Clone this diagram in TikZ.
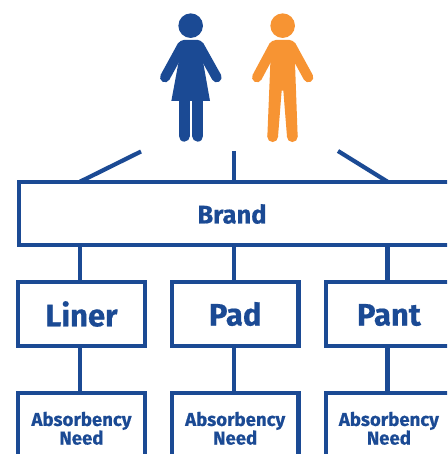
\documentclass[tikz,border=0pt]{standalone}
\usepackage{fontspec}
\setmainfont[BoldFeatures={FakeBold=0.5}]{Fira Sans}
\definecolor{brandblue}{HTML}{1B4A94}
\definecolor{personorange}{HTML}{F79433}
\tikzset{
  boxframe/.style={draw=brandblue,line width=4.2pt,fill=white,inner sep=0pt,outer sep=0pt,minimum width=126.4pt},
  linkline/.style={draw=brandblue,line width=4.2pt},
  bigbox/.style={boxframe,minimum height=63.4pt,text=brandblue,font=\fontsize{31}{31}\selectfont\bfseries},
  smallbox/.style={boxframe,minimum height=70pt,text=brandblue,align=center,font=\fontsize{18.6}{18.6}\selectfont\bfseries},
  limb/.style={line width=10pt,line cap=round},
  leg/.style={line width=11.3pt,line cap=round}
}
\begin{document}
\begin{tikzpicture}[x=1pt,y=-1pt]
\useasboundingbox (0,0) rectangle (447,454);
\clip (0,0) rectangle (447,454);
% woman
\begin{scope}[shift={(140,0)},x=0.33333pt,y=-0.33333pt,fill=brandblue,draw=brandblue]
  \fill (152,77) circle[radius=12.3pt];
  \draw[limb] (127,137) -- (75,232);
  \draw[limb] (177,137) -- (230,232);
  \fill[rounded corners=3pt] (122,120) -- (183,120) -- (190,150) -- (115,150) -- cycle;
  \fill (122,125) -- (183,125) -- (190,190) -- (210,303) -- (94,303) -- (115,190) -- cycle;
  \draw[leg] (132.5,300) -- (132.5,408);
  \draw[leg] (173.5,300) -- (173.5,408);
\end{scope}
% man
\begin{scope}[shift={(140,0)},x=0.33333pt,y=-0.33333pt,fill=personorange,draw=personorange]
  \fill (428,77) circle[radius=12.3pt];
  \draw[limb] (402,137) -- (351,232);
  \draw[limb] (453,137) -- (505,232);
  \fill[rounded corners=3pt] (398,120) -- (458,120) -- (465,150) -- (391,150) -- cycle;
  \fill (398,125) -- (458,125) -- (465,190) -- (473,410) -- (441,410) -- (430,272) -- (425,272) -- (414,410) -- (382,410) -- (391,190) -- cycle;
  \fill (398,410) circle[radius=5.4pt];
  \fill (457,410) circle[radius=5.4pt];
\end{scope}
% boxes
\node[boxframe,minimum width=480pt,minimum height=63.6pt,anchor=north west] (brandbox) at (19.3,181.7) {};
\node[text=brandblue,font=\fontsize{25.5}{25.5}\selectfont\bfseries] (brandtext) at (232,214) {Brand};
\node[bigbox] (liner) at (81.5,314) {\raisebox{-1pt}{\vphantom{d}Liner}};
\node[bigbox] (pad) at (235.2,314) {\raisebox{-1pt}{\vphantom{d}Pad}};
\node[bigbox] (pant) at (388.9,314) {\raisebox{-1pt}{\vphantom{d}Pant}};
\node[smallbox] (needa) at (81.5,428.3) {Absorbency\\Need};
\node[smallbox] (needb) at (235.2,428.3) {Absorbency\\Need};
\node[smallbox] (needc) at (388.9,428.3) {Absorbency\\Need};
% free ends above the brand box
\coordinate (freea) at (141,151.5);
\coordinate (freeb) at (234,151);
\coordinate (freec) at (338,151);
\coordinate (topa) at (80,181.7);
\coordinate (topb) at (234,181.7);
\coordinate (topc) at (387.5,181.7);
\draw[linkline] (freea) -- (topa);
\draw[linkline] (freeb) -- (topb);
\draw[linkline] (freec) -- (topc);
% connectors
\draw[linkline] ([xshift=-1.5pt]liner.north) -- ([xshift=-1.5pt]liner.north |- brandbox.south);
\draw[linkline] ([xshift=-1.2pt]pad.north) -- ([xshift=-1.2pt]pad.north |- brandbox.south);
\draw[linkline] ([xshift=-1.4pt]pant.north) -- ([xshift=-1.4pt]pant.north |- brandbox.south);
\draw[linkline] ([xshift=-1.5pt]liner.south) -- ([xshift=-1.5pt]liner.south |- needa.north);
\draw[linkline] ([xshift=-1.2pt]pad.south) -- ([xshift=-1.2pt]pad.south |- needb.north);
\draw[linkline] ([xshift=-1.4pt]pant.south) -- ([xshift=-1.4pt]pant.south |- needc.north);
\end{tikzpicture}
\end{document}
